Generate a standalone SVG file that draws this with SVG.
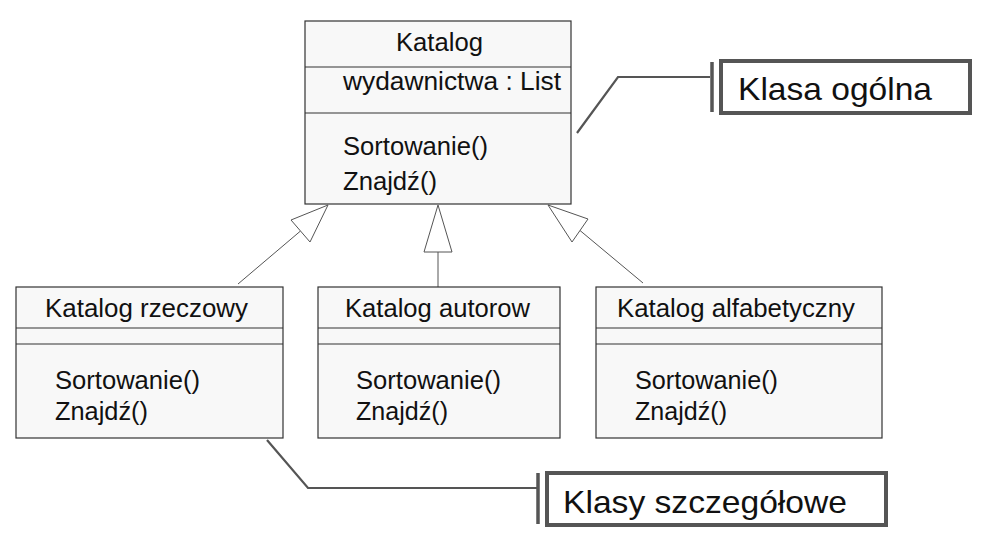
<svg xmlns="http://www.w3.org/2000/svg" width="997" height="536" viewBox="0 0 997 536">
<style>
.box{fill:#f8f8f8;stroke:#333;stroke-width:1.2}
.div{stroke:#333;stroke-width:1.2}
.t{font-family:"Liberation Sans",Arial,sans-serif;font-size:25px;fill:#111}
.big{font-family:"Liberation Sans",Arial,sans-serif;font-size:32px;fill:#111}
.conn{stroke:#555;stroke-width:1;fill:none}
.head{fill:#fff;stroke:#555;stroke-width:1}
.note{fill:#fff;stroke:#555;stroke-width:4}
.nl{stroke:#555;stroke-width:2.2;fill:none}
.bar{stroke:#555;stroke-width:3.5}
</style>
<rect width="997" height="536" fill="#fff"/>
<g id="connectors">
<line class="conn" x1="300.5" y1="231" x2="238" y2="284"/>
<polygon class="head" points="328,205 291,220 310,242"/>
<line class="conn" x1="438" y1="252" x2="438" y2="287"/>
<polygon class="head" points="438,205 424,252 452,252"/>
<line class="conn" x1="580" y1="230.5" x2="643" y2="283"/>
<polygon class="head" points="548,205 588,219 572,242"/>
<polyline class="nl" points="577,133 618,77 710,77"/>
<line class="bar" x1="712" y1="62" x2="712" y2="112"/>
<polyline class="nl" points="267,440 308,488 537,488"/>
<line class="bar" x1="538" y1="473" x2="538" y2="524"/>
</g>
<g id="katalog">
<rect class="box" x="305" y="21" width="266" height="183"/>
<line class="div" x1="305" y1="67" x2="571" y2="67"/>
<line class="div" x1="305" y1="113" x2="571" y2="113"/>
<text class="t" x="396" y="51" textLength="87" lengthAdjust="spacingAndGlyphs">Katalog</text>
<text class="t" x="343" y="90" textLength="218" lengthAdjust="spacingAndGlyphs">wydawnictwa : List</text>
<text class="t" x="343" y="155" textLength="145" lengthAdjust="spacingAndGlyphs">Sortowanie()</text>
<text class="t" x="343" y="190" textLength="94" lengthAdjust="spacingAndGlyphs">Znajdź()</text>
</g>
<g id="katalog-rzeczowy">
<rect class="box" x="16" y="287" width="267" height="151"/>
<line class="div" x1="16" y1="328" x2="283" y2="328"/>
<line class="div" x1="16" y1="344" x2="283" y2="344"/>
<text class="t" x="45" y="317" textLength="203" lengthAdjust="spacingAndGlyphs">Katalog rzeczowy</text>
<text class="t" x="55" y="389" textLength="145" lengthAdjust="spacingAndGlyphs">Sortowanie()</text>
<text class="t" x="55" y="420" textLength="93" lengthAdjust="spacingAndGlyphs">Znajdź()</text>
</g>
<g id="katalog-autorow">
<rect class="box" x="318" y="287" width="242" height="151"/>
<line class="div" x1="318" y1="328" x2="560" y2="328"/>
<line class="div" x1="318" y1="344" x2="560" y2="344"/>
<text class="t" x="345" y="317" textLength="185" lengthAdjust="spacingAndGlyphs">Katalog autorow</text>
<text class="t" x="356" y="389" textLength="145" lengthAdjust="spacingAndGlyphs">Sortowanie()</text>
<text class="t" x="356" y="420" textLength="92" lengthAdjust="spacingAndGlyphs">Znajdź()</text>
</g>
<g id="katalog-alfabetyczny">
<rect class="box" x="596" y="287" width="286" height="151"/>
<line class="div" x1="596" y1="328" x2="882" y2="328"/>
<line class="div" x1="596" y1="344" x2="882" y2="344"/>
<text class="t" x="617" y="317" textLength="238" lengthAdjust="spacingAndGlyphs">Katalog alfabetyczny</text>
<text class="t" x="635" y="389" textLength="143" lengthAdjust="spacingAndGlyphs">Sortowanie()</text>
<text class="t" x="635" y="420" textLength="92" lengthAdjust="spacingAndGlyphs">Znajdź()</text>
</g>
<g id="note-ogolna">
<rect class="note" x="721" y="61" width="249" height="52"/>
<text class="big" x="738" y="100" textLength="194" lengthAdjust="spacingAndGlyphs">Klasa ogólna</text>
</g>
<g id="note-szczegolowe">
<rect class="note" x="547" y="473" width="339" height="52"/>
<text class="big" x="563" y="513" textLength="284" lengthAdjust="spacingAndGlyphs">Klasy szczegółowe</text>
</g>
</svg>
